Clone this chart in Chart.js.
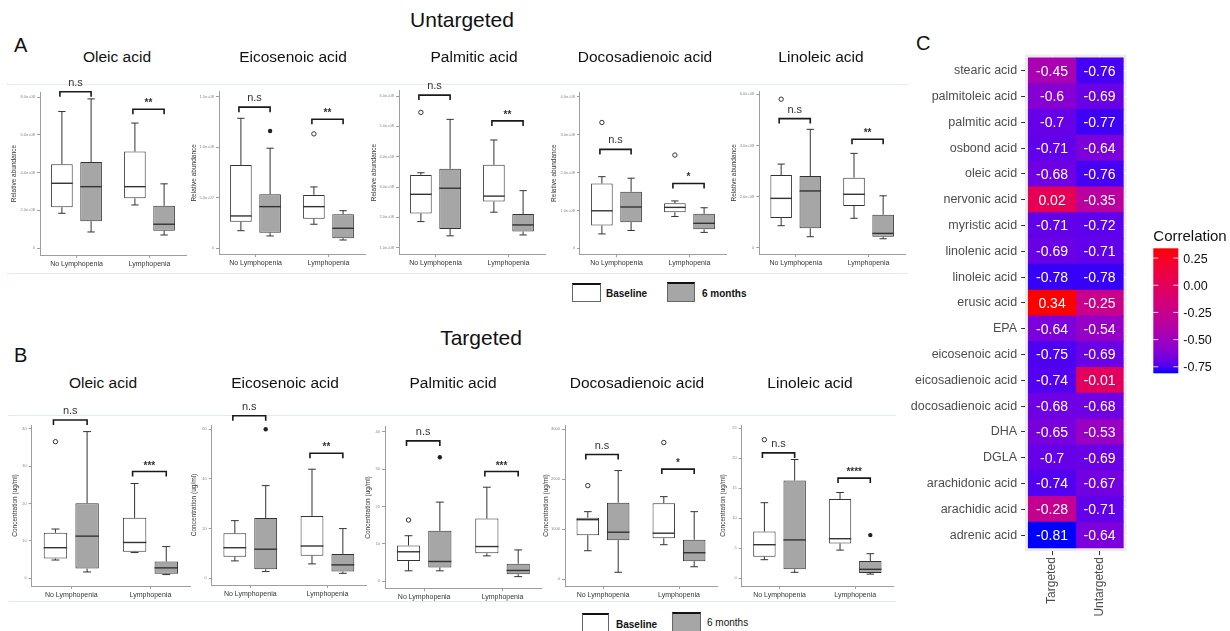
<!DOCTYPE html>
<html>
<head>
<meta charset="utf-8">
<script src="https://cdn.jsdelivr.net/npm/chart.js@4.4.1/dist/chart.umd.min.js"></script>
<style>
  body { margin: 0; background: #fff; }
  #fig { position: relative; width: 1230px; height: 631px; overflow: hidden; font-family: "Liberation Sans", Arial, sans-serif; color: #111; }
  .abs { position: absolute; white-space: nowrap; }
  .head { font-size: 21px; transform: translate(-50%, -50%); }
  .letter { font-size: 20px; }
  .ptitle { font-size: 15.5px; transform: translate(-50%, -50%); }
  .frame { position: absolute; border-top: 1px solid #e4ebee; border-bottom: 1px solid #e4ebee; }
  .key { position: absolute; box-sizing: border-box; border: 1px solid #666; border-top: 2px solid #111; }
  .keytext { font-size: 10px; transform: translateY(-50%); }
  canvas { position: absolute; }
</style>
</head>
<body>
<div id="fig">
  <div class="abs head" style="left:462px; top:20px;">Untargeted</div>
  <div class="abs head" style="left:481px; top:338px;">Targeted</div>
  <div class="abs letter" style="left:14px; top:34px;">A</div>
  <div class="abs letter" style="left:14px; top:344px;">B</div>
  <div class="abs letter" style="left:916px; top:32px;">C</div>

  <div class="key" style="left:572px; top:283px; width:29px; height:19px; background:#fff;"></div>
  <div class="abs keytext" style="left:606px; top:293px; font-weight:bold;">Baseline</div>
  <div class="key" style="left:667px; top:282px; width:28px; height:20px; background:#a6a6a6;"></div>
  <div class="abs keytext" style="left:702px; top:293px; font-weight:bold;">6 months</div>

  <div class="key" style="left:582px; top:613px; width:27px; height:20px; background:#fff;"></div>
  <div class="abs keytext" style="left:616px; top:624px; font-weight:bold;">Baseline</div>
  <div class="key" style="left:672px; top:612px; width:29px; height:21px; background:#a6a6a6;"></div>
  <div class="abs keytext" style="left:707px; top:622px;">6 months</div>
</div>

<script>
const groups = ["No Lymphopenia", "Lymphopenia"];

// five-number summaries per group: [min, q1, median, q3, max]
// Untargeted (relative abundance)
const untOleicBase = [[1.84e8, 2.16e8, 3.43e8, 4.44e8, 7.23e8], [2.28e8, 2.63e8, 3.25e8, 5.11e8, 6.62e8]];
const untOleic6m = [[0.85e8, 1.42e8, 3.25e8, 4.56e8, 7.90e8], [0.69e8, 0.92e8, 1.26e8, 2.24e8, 3.40e8]];
const untOleicOutBase = [[], []];
const untOleicOut6m = [[], []];
const untOleicTicks = [0, 2e8, 4e8, 6e8, 8e8];
const untOleicRange = [-0.37e8, 8.265e8];
const untOleicSig = ["n.s", "**"];
const untOleicSigAt = [8.28e8, 7.35e8];

const untEicosBase = [[0.174e8, 0.263e8, 0.32e8, 0.825e8, 1.286e8], [0.238e8, 0.293e8, 0.412e8, 0.528e8, 0.607e8]];
const untEicos6m = [[0.122e8, 0.155e8, 0.412e8, 0.535e8, 0.99e8], [0.082e8, 0.099e8, 0.198e8, 0.337e8, 0.372e8]];
const untEicosOutBase = [[], [1.132e8]];
const untEicosOut6m = [[1.161e8], []];
const untEicosTicks = [0, 0.5e8, 1.0e8, 1.5e8];
const untEicosRange = [-0.0564e8, 1.549e8];
const untEicosSig = ["n.s", "**"];
const untEicosSigAt = [1.396e8, 1.277e8];

const untPalmBase = [[1.86e8, 2.13e8, 2.76e8, 3.40e8, 3.47e8], [2.17e8, 2.52e8, 2.70e8, 3.73e8, 4.55e8]];
const untPalm6m = [[1.39e8, 1.62e8, 2.96e8, 3.60e8, 5.23e8], [1.42e8, 1.53e8, 1.75e8, 2.11e8, 2.88e8]];
const untPalmOutBase = [[5.46e8], []];
const untPalmOut6m = [[], []];
const untPalmTicks = [1e8, 2e8, 3e8, 4e8, 5e8, 6e8];
const untPalmRange = [0.782e8, 6.175e8];
const untPalmSig = ["n.s", "**"];
const untPalmSigAt = [6.03e8, 5.18e8];

const untDocoBase = [[0.38e8, 0.60e8, 0.99e8, 1.71e8, 1.89e8], [0.84e8, 0.95e8, 1.08e8, 1.19e8, 1.25e8]];
const untDoco6m = [[0.47e8, 0.69e8, 1.09e8, 1.49e8, 1.85e8], [0.42e8, 0.50e8, 0.66e8, 0.91e8, 1.07e8]];
const untDocoOutBase = [[3.32e8], [2.46e8]];
const untDocoOut6m = [[], []];
const untDocoTicks = [0, 1e8, 2e8, 3e8, 4e8];
const untDocoRange = [-0.158e8, 4.124e8];
const untDocoSig = ["n.s", "*"];
const untDocoSigAt = [2.61e8, 1.71e8];

const untLinoBase = [[0.86e8, 1.16e8, 1.93e8, 2.84e8, 3.27e8], [1.15e8, 1.63e8, 2.09e8, 2.74e8, 3.69e8]];
const untLino6m = [[0.43e8, 0.76e8, 2.22e8, 2.80e8, 4.63e8], [0.35e8, 0.43e8, 0.56e8, 1.29e8, 2.03e8]];
const untLinoOutBase = [[5.81e8], []];
const untLinoOut6m = [[], []];
const untLinoTicks = [0, 2e8, 4e8, 6e8];
const untLinoRange = [-0.246e8, 6.11e8];
const untLinoSig = ["n.s", "**"];
const untLinoSigAt = [5.05e8, 4.24e8];

// Targeted (concentration, ug/ml)
const tgtOleicBase = [[4.9, 5.3, 8.2, 12.2, 13.2], [6.9, 7.1, 9.6, 16.2, 25.4]];
const tgtOleic6m = [[1.7, 2.6, 11.3, 20.1, 39.3], [1.0, 1.25, 2.8, 4.5, 8.5]];
const tgtOleicOutBase = [[36.6], []];
const tgtOleicOut6m = [[], []];
const tgtOleicTicks = [0, 10, 20, 30, 40];
const tgtOleicRange = [-2.06, 41.07];
const tgtOleicSig = ["n.s", "***"];
const tgtOleicSigAt = [42.4, 28.6];

const tgtEicosBase = [[7.0, 8.7, 12.3, 18.1, 23.2], [5.8, 9.1, 13.0, 25.1, 43.9]];
const tgtEicos6m = [[2.7, 3.6, 11.7, 24.3, 37.3], [2.0, 2.7, 5.4, 9.8, 20.0]];
const tgtEicosOutBase = [[], []];
const tgtEicosOut6m = [[60], []];
const tgtEicosTicks = [0, 20, 40, 60];
const tgtEicosRange = [-2.7, 61.7];
const tgtEicosSig = ["n.s", "**"];
const tgtEicosSigAt = [65.4, 50.3];

const tgtPalmBase = [[2.8, 5.4, 7.9, 9.6, 12.2], [6.8, 7.5, 9.3, 16.8, 25.2]];
const tgtPalm6m = [[2.8, 3.7, 5.3, 13.5, 21.2], [1.25, 1.9, 2.9, 4.7, 8.4]];
const tgtPalmOutBase = [[16.4], []];
const tgtPalmOut6m = [[33.2], []];
const tgtPalmTicks = [0, 10, 20, 30, 40];
const tgtPalmRange = [-1.88, 41.4];
const tgtPalmSig = ["n.s", "***"];
const tgtPalmSigAt = [37.6, 29.4];

const tgtDocoBase = [[570, 880, 1190, 1230, 1350], [690, 820, 920, 1520, 1650]];
const tgtDoco6m = [[140, 780, 940, 1530, 2170], [250, 360, 530, 790, 1350]];
const tgtDocoOutBase = [[1870], [2730]];
const tgtDocoOut6m = [[], []];
const tgtDocoTicks = [0, 1000, 2000, 3000];
const tgtDocoRange = [-134, 3080];
const tgtDocoSig = ["n.s", "*"];
const tgtDocoSigAt = [2490, 2200];

const tgtLinoBase = [[3.1, 3.6, 5.6, 7.8, 12.6], [4.7, 5.8, 6.6, 13.2, 14.3]];
const tgtLino6m = [[1.0, 1.5, 6.4, 16.3, 19.8], [0.7, 0.9, 1.5, 2.9, 4.1]];
const tgtLinoOutBase = [[23.1], []];
const tgtLinoOut6m = [[], [7.2]];
const tgtLinoTicks = [0, 5, 10, 15, 20, 25];
const tgtLinoRange = [-1.28, 25.55];
const tgtLinoSig = ["n.s", "****"];
const tgtLinoSigAt = [20.9, 16.7];

// Heatmap (panel C)
const acids = ["stearic acid", "palmitoleic acid", "palmitic acid", "osbond acid", "oleic acid",
  "nervonic acid", "myristic acid", "linolenic acid", "linoleic acid", "erusic acid", "EPA",
  "eicosenoic acid", "eicosadienoic acid", "docosadienoic acid", "DHA", "DGLA",
  "arachidonic acid", "arachidic acid", "adrenic acid"];
const methods = ["Targeted", "Untargeted"];
const targetedCorr = [-0.45, -0.6, -0.7, -0.71, -0.68, 0.02, -0.71, -0.69, -0.78, 0.34, -0.64,
  -0.75, -0.74, -0.68, -0.65, -0.7, -0.74, -0.28, -0.81];
const untargetedCorr = [-0.76, -0.69, -0.77, -0.64, -0.76, -0.35, -0.72, -0.71, -0.78, -0.25, -0.54,
  -0.69, -0.01, -0.68, -0.53, -0.69, -0.67, -0.71, -0.64];
const legendTicks = [0.25, 0, -0.25, -0.5, -0.75];

Chart.defaults.font.family = '"Liberation Sans", Arial, sans-serif';

function sciLabel(v) {
  if (v === 0) return "0";
  const [m, e] = v.toExponential(1).split("e");
  return m + "e" + e[0] + e.slice(1).padStart(2, "0");
}

const untPanels = [
  { title: "Oleic acid", base: untOleicBase, m6: untOleic6m, outBase: untOleicOutBase, out6m: untOleicOut6m, ticks: untOleicTicks, range: untOleicRange, sig: untOleicSig, sigAt: untOleicSigAt },
  { title: "Eicosenoic acid", base: untEicosBase, m6: untEicos6m, outBase: untEicosOutBase, out6m: untEicosOut6m, ticks: untEicosTicks, range: untEicosRange, sig: untEicosSig, sigAt: untEicosSigAt },
  { title: "Palmitic acid", base: untPalmBase, m6: untPalm6m, outBase: untPalmOutBase, out6m: untPalmOut6m, ticks: untPalmTicks, range: untPalmRange, sig: untPalmSig, sigAt: untPalmSigAt },
  { title: "Docosadienoic acid", base: untDocoBase, m6: untDoco6m, outBase: untDocoOutBase, out6m: untDocoOut6m, ticks: untDocoTicks, range: untDocoRange, sig: untDocoSig, sigAt: untDocoSigAt },
  { title: "Linoleic acid", base: untLinoBase, m6: untLino6m, outBase: untLinoOutBase, out6m: untLinoOut6m, ticks: untLinoTicks, range: untLinoRange, sig: untLinoSig, sigAt: untLinoSigAt }
];
const tgtPanels = [
  { title: "Oleic acid", base: tgtOleicBase, m6: tgtOleic6m, outBase: tgtOleicOutBase, out6m: tgtOleicOut6m, ticks: tgtOleicTicks, range: tgtOleicRange, sig: tgtOleicSig, sigAt: tgtOleicSigAt },
  { title: "Eicosenoic acid", base: tgtEicosBase, m6: tgtEicos6m, outBase: tgtEicosOutBase, out6m: tgtEicosOut6m, ticks: tgtEicosTicks, range: tgtEicosRange, sig: tgtEicosSig, sigAt: tgtEicosSigAt },
  { title: "Palmitic acid", base: tgtPalmBase, m6: tgtPalm6m, outBase: tgtPalmOutBase, out6m: tgtPalmOut6m, ticks: tgtPalmTicks, range: tgtPalmRange, sig: tgtPalmSig, sigAt: tgtPalmSigAt },
  { title: "Docosadienoic acid", base: tgtDocoBase, m6: tgtDoco6m, outBase: tgtDocoOutBase, out6m: tgtDocoOut6m, ticks: tgtDocoTicks, range: tgtDocoRange, sig: tgtDocoSig, sigAt: tgtDocoSigAt },
  { title: "Linoleic acid", base: tgtLinoBase, m6: tgtLino6m, outBase: tgtLinoOutBase, out6m: tgtLinoOut6m, ticks: tgtLinoTicks, range: tgtLinoRange, sig: tgtLinoSig, sigAt: tgtLinoSigAt }
];

// page geometry (px) of each plot area
const geoA = [
  { axisX: 40, right: 186, top: 92, bottom: 255, wy: 29.2, tx: 117 },
  { axisX: 219, right: 365, top: 91.7, bottom: 254, wy: 28.2, tx: 293 },
  { axisX: 399, right: 545, top: 90.7, bottom: 254.3, wy: 28.2, tx: 474 },
  { axisX: 580, right: 726, top: 92, bottom: 254.3, wy: 29.2, tx: 645 },
  { axisX: 759.3, right: 905, top: 91.5, bottom: 254, wy: 28.5, tx: 821 }
];
const geoB = [
  { axisX: 31.7, right: 190, top: 425, bottom: 586, wy: 19.9, tx: 103 },
  { axisX: 211.7, right: 366, top: 425, bottom: 585, wy: 20.9, tx: 285 },
  { axisX: 385, right: 541.7, top: 426.7, bottom: 588.3, wy: 20.9, tx: 453 },
  { axisX: 565, right: 717, top: 425, bottom: 586, wy: 22.5, tx: 637 },
  { axisX: 741.7, right: 893, top: 425, bottom: 586, wy: 22.6, tx: 810 }
];

const fig = document.getElementById("fig");

function addDiv(cls, style, text) {
  const d = document.createElement("div");
  d.className = cls;
  d.style.cssText = style;
  if (text) d.textContent = text;
  fig.appendChild(d);
  return d;
}

function boxPlugin(p) {
  return {
    id: "boxExtras",
    afterDatasetsDraw(chart) {
      const ctx = chart.ctx;
      const y = chart.scales.y;
      const sets = [p.base, p.m6];
      const outs = [p.outBase, p.out6m];
      ctx.save();
      sets.forEach((stats, d) => {
        const meta = chart.getDatasetMeta(d);
        meta.data.forEach((bar, i) => {
          const s = stats[i];
          const cx = bar.x;
          const half = bar.width / 2;
          const cap = bar.width * 0.17;
          const yMin = y.getPixelForValue(s[0]);
          const yQ1 = y.getPixelForValue(s[1]);
          const yMed = y.getPixelForValue(s[2]);
          const yQ3 = y.getPixelForValue(s[3]);
          const yMax = y.getPixelForValue(s[4]);
          ctx.strokeStyle = "#333";
          ctx.lineWidth = 1;
          ctx.beginPath();
          ctx.moveTo(cx, yQ3); ctx.lineTo(cx, yMax);
          ctx.moveTo(cx - cap, yMax); ctx.lineTo(cx + cap, yMax);
          ctx.moveTo(cx, yQ1); ctx.lineTo(cx, yMin);
          ctx.moveTo(cx - cap, yMin); ctx.lineTo(cx + cap, yMin);
          ctx.stroke();
          ctx.lineWidth = 1.4;
          ctx.beginPath();
          ctx.moveTo(cx - half, yMed); ctx.lineTo(cx + half, yMed);
          ctx.stroke();
          outs[d][i].forEach((v) => {
            ctx.beginPath();
            ctx.arc(cx, y.getPixelForValue(v), 2.2, 0, Math.PI * 2);
            if (d === 0) {
              ctx.fillStyle = "#fff";
              ctx.fill();
              ctx.lineWidth = 1;
              ctx.stroke();
            } else {
              ctx.fillStyle = "#222";
              ctx.fill();
            }
          });
        });
      });

      // significance brackets
      const m0 = chart.getDatasetMeta(0);
      const m1 = chart.getDatasetMeta(1);
      p.sig.forEach((label, i) => {
        const x1 = m0.data[i].x - 2;
        const x2 = m1.data[i].x;
        const yb = y.getPixelForValue(p.sigAt[i]);
        ctx.strokeStyle = "#1a1a1a";
        ctx.lineWidth = 1.6;
        ctx.beginPath();
        ctx.moveTo(x1, yb + 5); ctx.lineTo(x1, yb); ctx.lineTo(x2, yb); ctx.lineTo(x2, yb + 5);
        ctx.stroke();
        ctx.fillStyle = "#333";
        ctx.textAlign = "center";
        ctx.textBaseline = "alphabetic";
        if (label === "n.s") {
          ctx.font = '11px "Liberation Sans", Arial, sans-serif';
          ctx.fillText(label, (x1 + x2) / 2, yb - 6);
        } else {
          ctx.font = 'bold 10px "Liberation Sans", Arial, sans-serif';
          ctx.fillText(label, (x1 + x2) / 2, yb - 3);
        }
      });
      ctx.restore();
    }
  };
}

function makeBoxChart(p, g, row) {
  const canvasTop = row === "A" ? 66 : 396;
  const canvasH = row === "A" ? 210 : 212;
  const left = Math.floor(g.axisX - g.wy);
  const width = Math.ceil(g.right + 8) - left;
  const yTitle = row === "A" ? "Relative abundance" : "Concentration (ug/ml)";
  const fmt = row === "A" ? sciLabel : (v) => String(v);

  const frameTop = row === "A" ? 84 : 415;
  const frameBottom = row === "A" ? 272 : 600;
  addDiv("frame", `left:${left - 3}px; top:${frameTop}px; width:${width - 2}px; height:${frameBottom - frameTop}px;`);
  addDiv("abs ptitle", `left:${g.tx}px; top:${row === "A" ? 57 : 383}px;`, p.title);

  const canvas = document.createElement("canvas");
  canvas.width = width;
  canvas.height = canvasH;
  canvas.style.left = left + "px";
  canvas.style.top = canvasTop + "px";
  canvas.style.width = width + "px";
  canvas.style.height = canvasH + "px";
  fig.appendChild(canvas);

  const xHeight = canvasTop + canvasH - g.bottom;

  new Chart(canvas, {
    type: "bar",
    data: {
      labels: groups,
      datasets: [
        {
          label: "Baseline",
          data: p.base.map((s) => [s[1], s[3]]),
          backgroundColor: "#ffffff",
          borderColor: "#333333",
          borderWidth: 1,
          borderSkipped: false
        },
        {
          label: "6 months",
          data: p.m6.map((s) => [s[1], s[3]]),
          backgroundColor: "#a6a6a6",
          borderColor: "#333333",
          borderWidth: 1,
          borderSkipped: false
        }
      ]
    },
    options: {
      responsive: false,
      animation: false,
      devicePixelRatio: 1,
      categoryPercentage: 0.8,
      barPercentage: 0.74,
      layout: {
        padding: {
          left: g.axisX - g.wy - left,
          right: left + width - g.right,
          top: g.top - canvasTop,
          bottom: 0
        }
      },
      plugins: {
        legend: { display: false },
        tooltip: { enabled: false }
      },
      scales: {
        x: {
          offset: true,
          grid: { display: true, drawOnChartArea: false, offset: false, tickLength: 3, color: "#9e9e9e" },
          border: { color: "#9e9e9e" },
          ticks: { font: { size: 7 }, color: "#333", padding: 2 },
          afterFit(axis) { axis.height = xHeight; }
        },
        y: {
          min: p.range[0],
          max: p.range[1],
          afterBuildTicks(axis) { axis.ticks = p.ticks.map((v) => ({ value: v })); },
          grid: { drawOnChartArea: false, tickLength: 3, color: "#9e9e9e" },
          border: { color: "#9e9e9e" },
          ticks: { font: { size: 4 }, color: "#888", padding: 2, callback: (v) => fmt(v) },
          title: { display: true, text: yTitle, font: { size: 6.5 }, color: "#333", padding: 0 },
          afterFit(axis) { axis.width = g.wy; }
        }
      }
    },
    plugins: [boxPlugin(p)]
  });
}

untPanels.forEach((p, i) => makeBoxChart(p, geoA[i], "A"));
tgtPanels.forEach((p, i) => makeBoxChart(p, geoB[i], "B"));

// HEATMAP colour scale: blue -> red interpolated in CIELAB like ggplot
function toLab(rgb) {
  const lin = rgb.map((c) => {
    c /= 255;
    return c <= 0.04045 ? c / 12.92 : Math.pow((c + 0.055) / 1.055, 2.4);
  });
  const X = (0.4124 * lin[0] + 0.3576 * lin[1] + 0.1805 * lin[2]) / 0.95047;
  const Y = 0.2126 * lin[0] + 0.7152 * lin[1] + 0.0722 * lin[2];
  const Z = (0.0193 * lin[0] + 0.1192 * lin[1] + 0.9505 * lin[2]) / 1.08883;
  const f = (t) => (t > 0.008856 ? Math.cbrt(t) : 7.787 * t + 16 / 116);
  const fx = f(X), fy = f(Y), fz = f(Z);
  return [116 * fy - 16, 500 * (fx - fy), 200 * (fy - fz)];
}

function fromLab(lab) {
  const fy = (lab[0] + 16) / 116;
  const fx = fy + lab[1] / 500;
  const fz = fy - lab[2] / 200;
  const inv = (t) => (t * t * t > 0.008856 ? t * t * t : (t - 16 / 116) / 7.787);
  const X = inv(fx) * 0.95047, Y = inv(fy), Z = inv(fz) * 1.08883;
  const r = 3.2406 * X - 1.5372 * Y - 0.4986 * Z;
  const g = -0.9689 * X + 1.8758 * Y + 0.0415 * Z;
  const b = 0.0557 * X - 0.2040 * Y + 1.0570 * Z;
  return [r, g, b].map((c) => {
    c = Math.min(1, Math.max(0, c));
    c = c <= 0.0031308 ? 12.92 * c : 1.055 * Math.pow(c, 1 / 2.4) - 0.055;
    return Math.round(c * 255);
  });
}

const allCorr = targetedCorr.concat(untargetedCorr);
const corrMin = Math.min(...allCorr);
const corrMax = Math.max(...allCorr);
const labLow = toLab([0, 0, 255]);
const labHigh = toLab([255, 0, 0]);

function corrColor(v) {
  const t = (v - corrMin) / (corrMax - corrMin);
  const lab = labLow.map((c, k) => c + (labHigh[k] - c) * t);
  const [r, g, b] = fromLab(lab);
  return `rgb(${r},${g},${b})`;
}

const hm = { left: 900, top: 30, width: 330, height: 601, areaLeft: 1025.1, areaRight: 1126.5, areaTop: 54.6, areaBottom: 551.2 };

const heatPlugin = {
  id: "heatExtras",
  beforeDraw(chart) {
    const { ctx, chartArea: a } = chart;
    ctx.save();
    ctx.fillStyle = "#ebebeb";
    ctx.fillRect(a.left, a.top, a.right - a.left, a.bottom - a.top);
    ctx.restore();
  },
  afterDatasetsDraw(chart) {
    const ctx = chart.ctx;
    const values = [targetedCorr, untargetedCorr];
    ctx.save();
    ctx.fillStyle = "#ffffff";
    ctx.font = '14px "Liberation Sans", Arial, sans-serif';
    ctx.textAlign = "center";
    ctx.textBaseline = "middle";
    values.forEach((vals, d) => {
      chart.getDatasetMeta(d).data.forEach((bar, i) => {
        const c = bar.getCenterPoint();
        ctx.fillText(String(vals[i]), c.x, c.y + 1);
      });
    });
    ctx.restore();
  },
  afterDraw(chart) {
    const ctx = chart.ctx;
    const barX = 253.3, barY = 218.3, barW = 25, barH = 125;
    ctx.save();
    const grad = ctx.createLinearGradient(0, barY, 0, barY + barH);
    for (let k = 0; k <= 20; k++) {
      const v = corrMax - (corrMax - corrMin) * k / 20;
      grad.addColorStop(k / 20, corrColor(v));
    }
    ctx.fillStyle = grad;
    ctx.fillRect(barX, barY, barW, barH);

    ctx.fillStyle = "#111";
    ctx.font = '15px "Liberation Sans", Arial, sans-serif';
    ctx.textAlign = "left";
    ctx.textBaseline = "middle";
    ctx.fillText("Correlation", barX, 207);

    ctx.font = '12.5px "Liberation Sans", Arial, sans-serif';
    legendTicks.forEach((v) => {
      const yy = barY + (corrMax - v) / (corrMax - corrMin) * barH;
      ctx.strokeStyle = "rgba(255,255,255,0.8)";
      ctx.lineWidth = 1;
      ctx.beginPath();
      ctx.moveTo(barX, yy); ctx.lineTo(barX + 5, yy);
      ctx.moveTo(barX + barW - 5, yy); ctx.lineTo(barX + barW, yy);
      ctx.stroke();
      ctx.fillText(v.toFixed(2), barX + barW + 5, yy + 1);
    });
    ctx.restore();
  }
};

const hmCanvas = document.createElement("canvas");
hmCanvas.width = hm.width;
hmCanvas.height = hm.height;
hmCanvas.style.left = hm.left + "px";
hmCanvas.style.top = hm.top + "px";
hmCanvas.style.width = hm.width + "px";
hmCanvas.style.height = hm.height + "px";
fig.appendChild(hmCanvas);

new Chart(hmCanvas, {
  type: "bar",
  data: {
    datasets: [
      {
        label: methods[0],
        data: acids.map((_, i) => ({ x: [0, 1], y: i })),
        backgroundColor: targetedCorr.map(corrColor),
        borderWidth: 0,
        grouped: false,
        barPercentage: 1,
        categoryPercentage: 1
      },
      {
        label: methods[1],
        data: acids.map((_, i) => ({ x: [1, 2], y: i })),
        backgroundColor: untargetedCorr.map(corrColor),
        borderWidth: 0,
        grouped: false,
        barPercentage: 1,
        categoryPercentage: 1
      }
    ]
  },
  options: {
    indexAxis: "y",
    responsive: false,
    animation: false,
    devicePixelRatio: 1,
    layout: {
      padding: {
        left: 0,
        right: hm.left + hm.width - hm.areaRight,
        top: hm.areaTop - hm.top,
        bottom: 0
      }
    },
    plugins: {
      legend: { display: false },
      tooltip: { enabled: false }
    },
    scales: {
      x: {
        type: "linear",
        offset: false,
        min: -0.067,
        max: 2.067,
        afterBuildTicks(axis) { axis.ticks = [0.5, 1.5].map((v) => ({ value: v })); },
        grid: { color: "#ffffff", tickColor: "#333333", tickLength: 4, offset: false },
        border: { display: false },
        ticks: {
          autoSkip: false,
          minRotation: 90,
          maxRotation: 90,
          font: { size: 12 },
          color: "#4d4d4d",
          padding: 2,
          callback: (v, i) => methods[i]
        },
        afterFit(axis) { axis.height = hm.top + hm.height - hm.areaBottom; }
      },
      y: {
        type: "linear",
        offset: false,
        reverse: true,
        min: -0.624,
        max: 18.624,
        afterBuildTicks(axis) { axis.ticks = acids.map((_, i) => ({ value: i })); },
        grid: { color: "#ffffff", tickColor: "#333333", tickLength: 4, offset: false },
        border: { display: false },
        ticks: {
          autoSkip: false,
          font: { size: 12.5 },
          color: "#4d4d4d",
          padding: 4,
          callback: (v) => acids[v]
        },
        afterFit(axis) { axis.width = hm.areaLeft - hm.left; }
      }
    }
  },
  plugins: [heatPlugin]
});
</script>
</body>
</html>
